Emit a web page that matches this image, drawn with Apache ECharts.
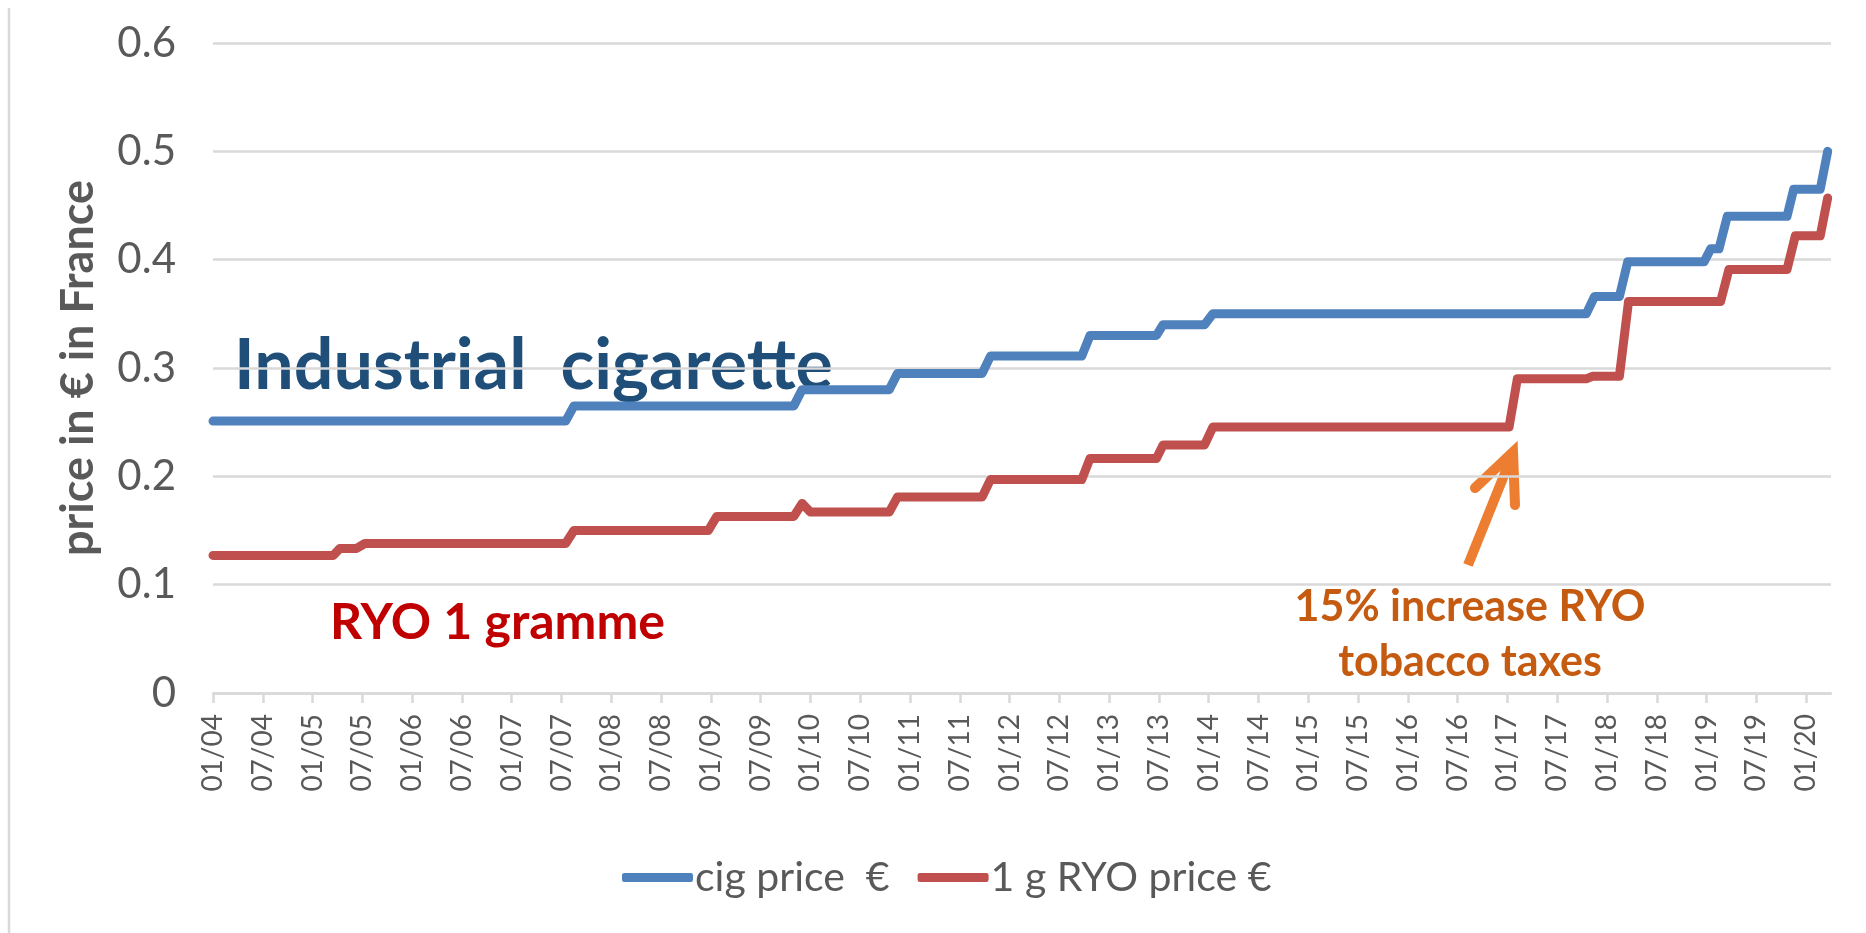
<!DOCTYPE html>
<html>
<head>
<meta charset="utf-8">
<title>cig vs RYO price</title>
<script src="https://cdn.jsdelivr.net/npm/echarts@6/dist/echarts.min.js"></script>
<style>
  html, body { margin: 0; padding: 0; background: #fff; }
  #chart { width: 1866px; height: 933px; }
</style>
</head>
<body>
<div id="chart"></div>
<script>
// x = months since 01/2004, step points
const cigMonths = [0, 42.5, 43.5, 70, 71, 81.5, 82.5, 92.7, 93.7, 104.7, 105.7, 113.7, 114.5, 119.5, 120.5, 165.5, 166.5, 169.5, 170.5, 179.7, 180.5, 181.5, 182.5, 189.7, 190.5, 193.7, 194.6];
const cigPrices = [0.251, 0.251, 0.265, 0.265, 0.28, 0.28, 0.295, 0.295, 0.311, 0.311, 0.33, 0.33, 0.34, 0.34, 0.35, 0.35, 0.366, 0.366, 0.398, 0.398, 0.41, 0.41, 0.44, 0.44, 0.465, 0.465, 0.50];

const ryoMonths = [0, 14.5, 15.3, 17.3, 18.3, 42.5, 43.5, 59.7, 60.7, 70, 71, 72, 81.5, 82.5, 92.7, 93.7, 104.7, 105.7, 113.7, 114.5, 119.5, 120.5, 156.2, 157.2, 165.5, 166.3, 169.5, 170.6, 181.7, 182.7, 189.7, 190.7, 193.7, 194.6];
const ryoPrices = [0.127, 0.127, 0.1335, 0.1335, 0.138, 0.138, 0.150, 0.150, 0.163, 0.163, 0.175, 0.167, 0.167, 0.181, 0.181, 0.197, 0.197, 0.2165, 0.2165, 0.229, 0.229, 0.2455, 0.2455, 0.290, 0.290, 0.2925, 0.2925, 0.3615, 0.3615, 0.391, 0.391, 0.422, 0.422, 0.457];

const tickLabels = ['01/04', '07/04', '01/05', '07/05', '01/06', '07/06', '01/07', '07/07', '01/08', '07/08',
  '01/09', '07/09', '01/10', '07/10', '01/11', '07/11', '01/12', '07/12', '01/13', '07/13',
  '01/14', '07/14', '01/15', '07/15', '01/16', '07/16', '01/17', '07/17', '01/18', '07/18',
  '01/19', '07/19', '01/20'];
const tickMonths = tickLabels.map(function (l, i) { return i * 6; });

const seriesNames = ['cig price  \u20ac', '1 g RYO price \u20ac'];

let myChart = echarts.init(document.getElementById('chart'));

function pairs(xs, ys) {
  return xs.map(function (x, i) { return [x, ys[i]]; });
}

let gray = '#d9d9d9';
let font = 'Lato';

let option = {
  animation: false,
  backgroundColor: '#fff',
  textStyle: { fontFamily: font },
  grid: { left: 213, right: 35, top: 43, bottom: 240 },
  legend: {
    data: seriesNames,
    left: 617,
    top: 852,
    icon: 'roundRect',
    itemWidth: 71,
    itemHeight: 9,
    itemGap: 28,
    textStyle: { fontSize: 41, color: '#595959', fontFamily: font, padding: [0, 0, 0, -3] }
  },
  xAxis: {
    type: 'value',
    min: 0,
    max: 195,
    splitLine: { show: false },
    axisLine: { show: true, lineStyle: { color: gray, width: 2.5 } },
    axisTick: { show: true, customValues: tickMonths, length: 10, lineStyle: { color: gray, width: 2.5 } },
    axisLabel: {
      customValues: tickMonths,
      rotate: 90,
      margin: 21,
      fontSize: 28,
      color: '#595959',
      fontFamily: font,
      formatter: function (v) { return tickLabels[Math.round(v / 6)]; }
    }
  },
  yAxis: {
    type: 'value',
    min: 0,
    max: 0.6,
    interval: 0.1,
    name: 'price in \u20ac in France',
    nameLocation: 'middle',
    nameGap: 112,
    nameTextStyle: { fontSize: 45, color: '#595959', fontWeight: 'bold', fontFamily: font },
    axisLine: { show: false },
    axisTick: { show: false },
    splitLine: { lineStyle: { color: gray, width: 2.5 } },
    axisLabel: { margin: 37, fontSize: 42, color: '#595959', fontFamily: font }
  },
  series: [
    {
      name: seriesNames[0],
      type: 'line',
      data: pairs(cigMonths, cigPrices),
      showSymbol: false,
      color: '#4f81bd',
      lineStyle: { width: 9, color: '#4f81bd', cap: 'round', join: 'round' }
    },
    {
      name: seriesNames[1],
      type: 'line',
      data: pairs(ryoMonths, ryoPrices),
      showSymbol: false,
      color: '#c0504d',
      lineStyle: { width: 9, color: '#c0504d', cap: 'round', join: 'round' }
    }
  ],
  graphic: [
    { type: 'line', shape: { x1: 9, y1: 8, x2: 9, y2: 933 }, style: { stroke: gray, lineWidth: 2.5 } },
    {
      type: 'text', x: 234, y: 366,
      style: { text: 'Industrial  cigarette', fill: '#1f4e79', font: 'bold 70px Lato', textVerticalAlign: 'middle' }
    },
    {
      type: 'text', x: 330, y: 623,
      style: { text: 'RYO 1 gramme', fill: '#c00000', font: 'bold 50px Lato', textVerticalAlign: 'middle' }
    },
    {
      type: 'text', x: 1470, y: 607,
      style: { text: '15% increase RYO', fill: '#c55a11', font: 'bold 43px Lato', textAlign: 'center', textVerticalAlign: 'middle' }
    },
    {
      type: 'text', x: 1470, y: 662,
      style: { text: 'tobacco taxes', fill: '#c55a11', font: 'bold 43px Lato', textAlign: 'center', textVerticalAlign: 'middle' }
    },
    {
      type: 'line', shape: { x1: 1468, y1: 565, x2: 1511, y2: 458 },
      style: { stroke: '#ed7d31', lineWidth: 10 }
    },
    {
      type: 'polyline', shape: { points: [[1475, 488], [1513, 452], [1515, 505]] },
      style: { stroke: '#ed7d31', lineWidth: 10, lineCap: 'round', lineJoin: 'miter', fill: null }
    }
  ]
};

myChart.setOption(option);
window.addEventListener('resize', function () {
  myChart.resize();
});
</script>
</body>
</html>
